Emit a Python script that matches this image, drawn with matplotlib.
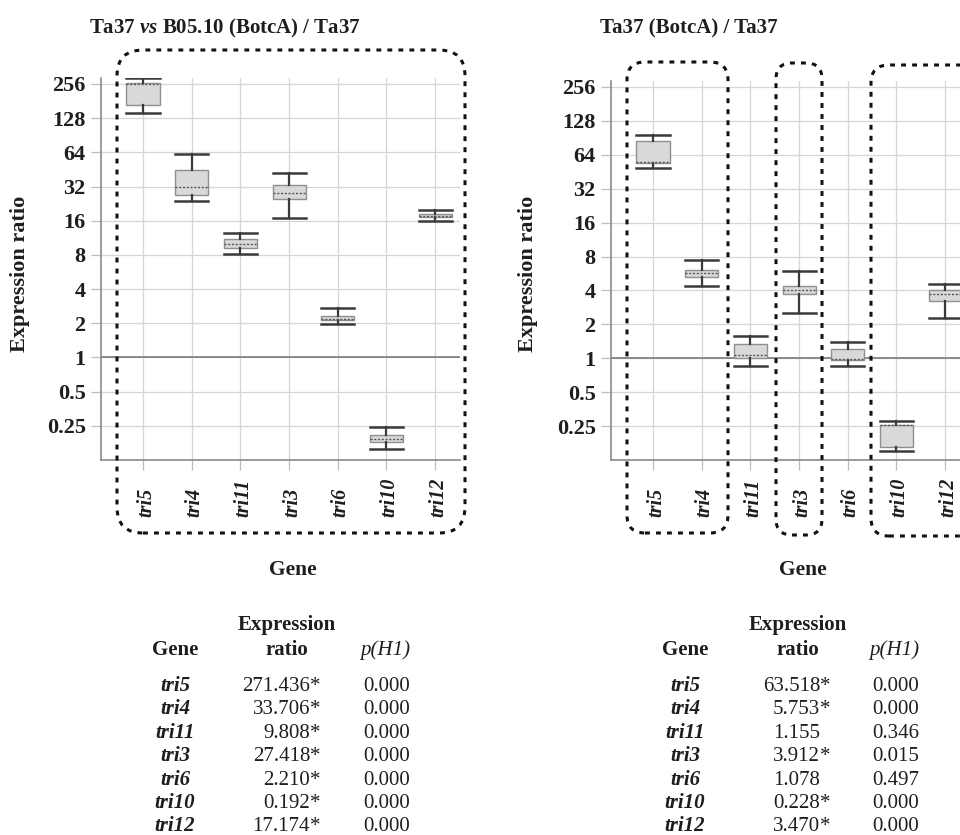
import matplotlib
matplotlib.use("Agg")
import matplotlib.pyplot as plt
from matplotlib.patches import FancyBboxPatch

plt.rcParams['font.family'] = ['Liberation Serif', 'DejaVu Serif']
plt.rcParams['mathtext.fontset'] = 'custom'
plt.rcParams['mathtext.rm'] = 'Liberation Serif:bold'
plt.rcParams['mathtext.it'] = 'Liberation Serif:italic:bold'

genes = ['tri5', 'tri4', 'tri11', 'tri3', 'tri6', 'tri10', 'tri12']
yticks = [0.25, 0.5, 1, 2, 4, 8, 16, 32, 64, 128, 256]
ylabels = ['0.25', '0.5', '1', '2', '4', '8', '16', '32', '64', '128', '256']

# Ta37 vs B05.10 (BotcA) / Ta37
l_whislo = [142, 24, 8.2, 17, 1.96, 0.156, 16]
l_q1 = [167, 27, 9.2, 24.8, 2.12, 0.18, 17.3]
l_med = [258, 32, 10, 28.3, 2.2, 0.19, 17.6]
l_q3 = [262, 45, 11.1, 33.3, 2.31, 0.208, 18.4]
l_whishi = [290, 62, 12.5, 41.7, 2.71, 0.245, 20]

# Ta37 (BotcA) / Ta37
r_whislo = [49, 4.4, 0.85, 2.5, 0.85, 0.15, 2.26]
r_q1 = [54, 5.3, 1.0, 3.75, 0.96, 0.163, 3.2]
r_med = [55.5, 5.7, 1.06, 4.0, 0.98, 0.255, 3.7]
r_q3 = [85, 6.1, 1.33, 4.35, 1.2, 0.258, 4.0]
r_whishi = [96, 7.5, 1.56, 5.9, 1.39, 0.28, 4.6]

# tables
l_ratio = ['271.436', '33.706', '9.808', '27.418', '2.210', '0.192', '17.174']
l_sig = [True, True, True, True, True, True, True]
l_p = ['0.000', '0.000', '0.000', '0.000', '0.000', '0.000', '0.000']
r_ratio = ['63.518', '5.753', '1.155', '3.912', '1.078', '0.228', '3.470']
r_sig = [True, True, False, True, False, True, True]
r_p = ['0.000', '0.000', '0.346', '0.015', '0.497', '0.000', '0.000']

W, H = 960, 835
TXT = '#1e1e1e'
fig = plt.figure(figsize=(W / 100, H / 100), dpi=100)


def fx(x):
    return x / W


def fy(y):
    return 1 - y / H


def panel(left, right, top, lo, q1, med, q3, hi):
    ax = fig.add_axes([fx(left), fy(460), fx(right - left), (460 - top) / H])
    stats = []
    for i in range(len(genes)):
        stats.append(dict(whislo=lo[i], q1=q1[i], med=med[i], q3=q3[i], whishi=hi[i]))
    ax.bxp(stats, positions=range(len(genes)), widths=0.68, capwidths=0.68,
           showfliers=False, patch_artist=True,
           boxprops=dict(facecolor='#d9d9d9', edgecolor='#8f8f8f', linewidth=1.0),
           whiskerprops=dict(color='#3a3a3a', linewidth=1.6),
           capprops=dict(color='#3a3a3a', linewidth=1.8),
           medianprops=dict(color='#555555', linewidth=1.0, linestyle=(0, (1.5, 1.2))),
           zorder=3)
    ax.set_yscale('log', base=2)
    ax.set_ylim(0.125, 292)
    ax.set_xlim(-0.862, 6.51)
    ax.set_yticks(yticks)
    ax.set_yticklabels(ylabels, fontsize=16, fontweight='bold', color=TXT)
    ax.minorticks_off()
    ax.set_xticks(range(len(genes)))
    ax.set_xticklabels([''] * len(genes))
    ax.tick_params(axis='both', direction='out', length=7, width=0.9,
                   color='#bdbdbd', pad=4)
    ax.grid(True, color='#d6d6d6', linewidth=0.9)
    ax.set_axisbelow(True)
    ax.axhline(1, color='#7a7a7a', linewidth=1.2, zorder=2)
    for s in ['top', 'right']:
        ax.spines[s].set_visible(False)
    for s in ['left', 'bottom']:
        ax.spines[s].set_color('#8a8a8a')
        ax.spines[s].set_linewidth(1.2)
    yb = (460 - 517) / (460 - top)
    for i, g in enumerate(genes):
        ax.text(i + 0.06, yb, g, transform=ax.get_xaxis_transform(), rotation=90,
                ha='center', va='bottom', fontsize=14.5, fontweight='bold',
                style='italic', color=TXT)
    return ax


panel(101, 460, 77.5, l_whislo, l_q1, l_med, l_q3, l_whishi)
panel(611, 970, 80.5, r_whislo, r_q1, r_med, r_q3, r_whishi)

# titles and labels
fig.text(fx(225), fy(33), r'Ta37 $vs$ B05.10 (BotcA) / Ta37', ha='center', va='baseline',
         fontsize=15, fontweight='bold', color=TXT)
fig.text(fx(689), fy(33), 'Ta37 (BotcA) / Ta37', ha='center', va='baseline',
         fontsize=15, fontweight='bold', color=TXT)
for xl in [20, 528]:
    fig.text(fx(xl), fy(274), 'Expression ratio', rotation=90, ha='center', va='center',
             fontsize=16, fontweight='bold', color=TXT)
for xg in [293, 803]:
    fig.text(fx(xg), fy(575), 'Gene', ha='center', va='baseline',
             fontsize=15.5, fontweight='bold', color=TXT)

# dotted rounded frames (pixel boxes: x0, y0, x1, y1, radius)
frames = [(117, 50, 465, 533, 26), (627, 62, 728, 533, 18),
          (776, 63, 822, 535, 16), (871, 65, 1010, 536, 18)]
for x0, y0, x1, y1, r in frames:
    p = FancyBboxPatch((x0 / 100, (H - y1) / 100), (x1 - x0) / 100, (y1 - y0) / 100,
                       boxstyle='round,pad=0,rounding_size=%f' % (r / 100),
                       transform=fig.dpi_scale_trans, fill=False, edgecolor='#111111',
                       linewidth=2.2, linestyle=(0, (1.6, 2.0)), zorder=5)
    fig.add_artist(p)

# tables
row_y = [684, 707, 731, 754, 778, 801, 824]


def table(gx, ex, nx, px, ratio, sig, pv):
    fig.text(fx(gx), fy(648 + 7), 'Gene', ha='center', va='baseline', fontsize=15,
             fontweight='bold', color=TXT)
    fig.text(fx(ex), fy(623 + 7), 'Expression', ha='center', va='baseline', fontsize=15,
             fontweight='bold', color=TXT)
    fig.text(fx(ex), fy(648 + 7), 'ratio', ha='center', va='baseline', fontsize=15,
             fontweight='bold', color=TXT)
    fig.text(fx(px - 25), fy(648 + 7), 'p(H1)', ha='center', va='baseline', fontsize=15,
             style='italic', color=TXT)
    for i, g in enumerate(genes):
        yy = fy(row_y[i] + 7)
        fig.text(fx(gx), yy, g, ha='center', va='baseline', fontsize=15,
                 fontweight='bold', style='italic', color=TXT)
        fig.text(fx(nx), yy, ratio[i], ha='right', va='baseline', fontsize=15,
                 color=TXT)
        if sig[i]:
            fig.text(fx(nx), yy, '*', ha='left', va='baseline', fontsize=15,
                     color=TXT)
        fig.text(fx(px), yy, pv[i], ha='right', va='baseline', fontsize=15,
                 color=TXT)


table(175, 287, 310, 410, l_ratio, l_sig, l_p)
table(685, 798, 820, 919, r_ratio, r_sig, r_p)

fig.savefig('out.png', dpi=100)
